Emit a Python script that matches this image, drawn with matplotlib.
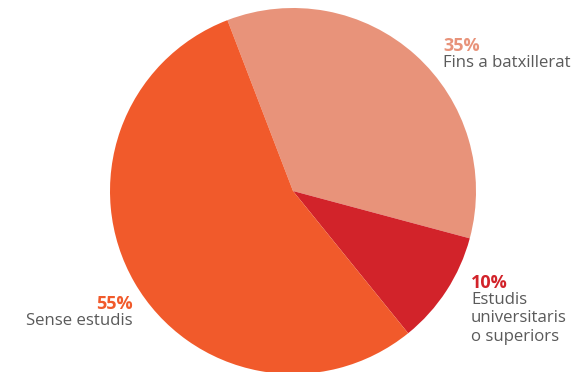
import matplotlib
matplotlib.use("Agg")
import matplotlib.pyplot as plt

labels = ["Fins a batxillerat", "Estudis\nuniversitaris\no superiors", "Sense estudis"]
values = [35, 10, 55]
colors = ["#E8937A", "#D2232A", "#F15A2B"]

W, H = 585, 372
fig = plt.figure(figsize=(W / 100, H / 100), dpi=100)
ax = fig.add_axes([0, 0, 1, 1])

cx, cy, r = 293, H - 191, 183
wedges, _ = ax.pie(values, colors=colors, startangle=111, counterclock=False,
                   center=(cx, cy), radius=r, frame=True,
                   wedgeprops=dict(linewidth=0))
for w in wedges:
    w.set_clip_on(False)
ax.set_xlim(0, W)
ax.set_ylim(0, H)
ax.set_aspect("equal")
ax.axis("off")

font = "Open Sans"
gray = "#5A5A5A"
fs = 12.1

def label(x, y, pct, txt, col, ha):
    ax.text(x, H - y, f"{pct}%", color=col, fontsize=13, fontweight="bold",
            family=font, ha=ha, va="center")
    ax.text(x, H - y - 9, txt, color=gray, fontsize=fs, family=font,
            ha=ha, va="top", linespacing=1.2)

label(443, 46, values[0], labels[0], colors[0], "left")
label(471, 283, values[1], labels[1], colors[1], "left")
label(133, 304, values[2], labels[2], colors[2], "right")

fig.savefig("out.png", dpi=100)
